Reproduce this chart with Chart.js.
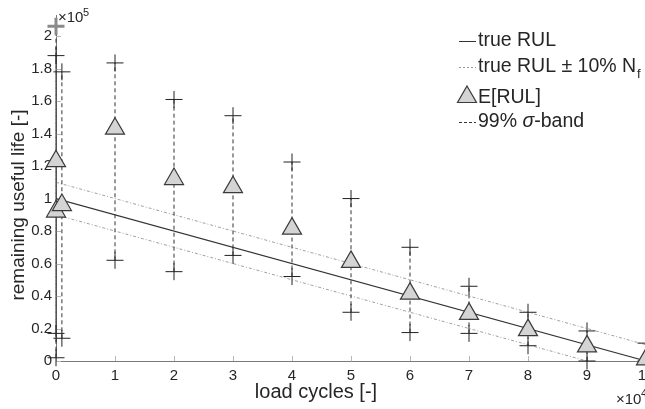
<!DOCTYPE html>
<html>
<head>
<meta charset="utf-8">
<script src="https://cdn.jsdelivr.net/npm/chart.js@4.4.1/dist/chart.umd.min.js"></script>
<style>
  html, body { margin: 0; padding: 0; background: #fff; overflow: hidden; }
  #wrap { width: 680px; height: 409px; }
</style>
</head>
<body>
<div id="wrap"><canvas id="rulChart" width="680" height="409"></canvas></div>
<script>
// load cycles in units of 1e4, remaining useful life in units of 1e5
const cycles   = [0, 0, 0.1, 1, 2, 3, 4, 5, 6, 7, 8, 9, 10];
const meanRUL  = [1.23, 0.92, 0.96, 1.43, 1.12, 1.07, 0.815, 0.61, 0.415, 0.29, 0.19, 0.09, 0.01];
const upperRUL = [2.06, 1.88, 1.78, 1.835, 1.61, 1.51, 1.225, 1.0, 0.70, 0.46, 0.30, 0.185, 0.11];
const lowerRUL = [0.02, 0.17, 0.14, 0.62, 0.55, 0.65, 0.52, 0.30, 0.175, 0.17, 0.094, 0.0, 0.0];

const trueCycles = [0, 10];
const trueRUL    = [1, 0];
const bandUpper  = [1.1, 0.1];
const bandLower  = [0.9, -0.1];

const xTicks = [0, 1, 2, 3, 4, 5, 6, 7, 8, 9, 10];
const yTicks = [0, 0.2, 0.4, 0.6, 0.8, 1, 1.2, 1.4, 1.6, 1.8, 2];

const FONT = '"Liberation Sans", Arial, sans-serif';
const TXT = '#262626';

const pts = (xs, ys) => xs.map((v, i) => ({ x: v, y: ys[i] }));

// vertical sigma bars, broken by gaps
const bandBars = [];
cycles.forEach((c, i) => {
    bandBars.push({ x: c, y: lowerRUL[i] }, { x: c, y: upperRUL[i] }, { x: c, y: null });
});

const extras = {
    id: 'extras',
    beforeDatasetsDraw(chart) {
        const { ctx, chartArea: a, scales: { x, y } } = chart;
        ctx.save();
        ctx.strokeStyle = '#b8b8b8';
        ctx.lineWidth = 1;
        ctx.beginPath();
        xTicks.forEach(v => {
            const px = Math.round(x.getPixelForValue(v)) + 0.5;
            ctx.moveTo(px, a.bottom);
            ctx.lineTo(px, a.bottom - 5);
        });
        yTicks.forEach(v => {
            const py = Math.round(y.getPixelForValue(v)) + 0.5;
            ctx.moveTo(a.left, py);
            ctx.lineTo(a.left + 5, py);
        });
        ctx.stroke();
        ctx.restore();
    },
    afterDraw(chart) {
        const { ctx } = chart;
        ctx.save();
        ctx.fillStyle = TXT;

        // axis titles
        ctx.textAlign = 'center';
        ctx.textBaseline = 'middle';
        ctx.font = '20px ' + FONT;
        ctx.fillText('load cycles [-]', 316, 392);
        ctx.save();
        ctx.translate(19, 205);
        ctx.rotate(-Math.PI / 2);
        ctx.font = '19px ' + FONT;
        ctx.fillText('remaining useful life [-]', 0, 0);
        ctx.restore();

        // exponents
        ctx.textAlign = 'left';
        ctx.textBaseline = 'alphabetic';
        ctx.font = '15px ' + FONT;
        ctx.fillText('\u00d710', 58, 22);
        ctx.font = '11px ' + FONT;
        ctx.fillText('5', 83, 16);
        ctx.font = '15px ' + FONT;
        ctx.fillText('\u00d710', 616, 404);
        ctx.font = '11px ' + FONT;
        ctx.fillText('4', 641, 397);

        // legend
        const lx0 = 459, lx1 = 476, tx = 478;
        const LF = '19.5px ' + FONT;
        ctx.font = LF;
        ctx.textBaseline = 'middle';
        ctx.lineWidth = 1;

        ctx.strokeStyle = '#333';
        ctx.setLineDash([]);
        ctx.beginPath(); ctx.moveTo(lx0, 41.5); ctx.lineTo(lx1, 41.5); ctx.stroke();
        ctx.fillText('true RUL', tx, 41);

        ctx.strokeStyle = '#9a9a9a';
        ctx.setLineDash([2, 2]);
        ctx.beginPath(); ctx.moveTo(lx0, 67.5); ctx.lineTo(lx1, 67.5); ctx.stroke();
        const s2 = 'true RUL \u00b1 10% N';
        ctx.fillText(s2, tx, 67);
        const w2 = ctx.measureText(s2).width;
        ctx.font = '13px ' + FONT;
        ctx.fillText('f', tx + w2 + 1, 74);

        ctx.setLineDash([]);
        ctx.fillStyle = '#d4d4d4';
        ctx.strokeStyle = '#3a3a3a';
        ctx.lineWidth = 1.2;
        ctx.beginPath();
        ctx.moveTo(467, 86); ctx.lineTo(476.5, 102.5); ctx.lineTo(457.5, 102.5); ctx.closePath();
        ctx.fill(); ctx.stroke();
        ctx.fillStyle = TXT;
        ctx.font = LF;
        ctx.fillText('E[RUL]', tx, 98);

        ctx.strokeStyle = '#333';
        ctx.lineWidth = 1;
        ctx.setLineDash([3, 2]);
        ctx.beginPath(); ctx.moveTo(lx0, 122.5); ctx.lineTo(lx1, 122.5); ctx.stroke();
        ctx.setLineDash([]);
        let cx = tx;
        ctx.fillText('99% ', cx, 122);
        cx += ctx.measureText('99% ').width;
        ctx.font = 'italic ' + LF;
        ctx.fillText('\u03c3', cx, 122);
        cx += ctx.measureText('\u03c3').width;
        ctx.font = LF;
        ctx.fillText('-band', cx, 122);

        ctx.restore();
    }
};

new Chart(document.getElementById('rulChart'), {
    type: 'scatter',
    data: {
        datasets: [
            {
                label: 'E[RUL]',
                data: pts(cycles, meanRUL),
                pointStyle: 'triangle',
                pointRadius: 11,
                pointHoverRadius: 11,
                backgroundColor: '#d4d4d4',
                borderColor: '#3a3a3a',
                borderWidth: 1.2,
                clip: false
            },
            {
                label: 'upper',
                data: pts(cycles, upperRUL),
                pointStyle: 'cross',
                pointRadius: 8.5,
                borderColor: ctx => ctx.dataIndex === 0 ? '#8a8a8a' : '#222',
                borderWidth: ctx => ctx.dataIndex === 0 ? 3 : 1,
                clip: false
            },
            {
                label: 'lower',
                data: pts(cycles, lowerRUL),
                pointStyle: 'cross',
                pointRadius: 8.5,
                borderColor: '#222',
                borderWidth: 1,
                clip: false
            },
            {
                label: '99% sigma-band',
                data: bandBars,
                showLine: true,
                spanGaps: false,
                pointRadius: 0,
                borderColor: '#333',
                borderWidth: 1,
                borderDash: [4, 3],
                clip: 6
            },
            {
                label: 'true RUL',
                data: pts(trueCycles, trueRUL),
                showLine: true,
                pointRadius: 0,
                borderColor: '#333',
                borderWidth: 1.2
            },
            {
                label: 'true RUL + 10%',
                data: pts(trueCycles, bandUpper),
                showLine: true,
                pointRadius: 0,
                borderColor: '#a0a0a0',
                borderWidth: 1,
                borderDash: [3, 2, 1, 2]
            },
            {
                label: 'true RUL - 10%',
                data: pts(trueCycles, bandLower),
                showLine: true,
                pointRadius: 0,
                borderColor: '#a0a0a0',
                borderWidth: 1,
                borderDash: [3, 2, 1, 2]
            }
        ]
    },
    options: {
        responsive: false,
        animation: false,
        devicePixelRatio: 1,
        layout: { padding: { left: 0, right: 34, top: 15, bottom: 0 } },
        plugins: { legend: { display: false }, tooltip: { enabled: false } },
        scales: {
            x: {
                type: 'linear',
                min: 0,
                max: 10,
                afterBuildTicks: s => { s.ticks = xTicks.map(v => ({ value: v })); },
                afterFit: s => { s.height = 48; },
                grid: { display: true, drawOnChartArea: false, drawTicks: false },
                border: { display: true, color: '#7a7a7a', width: 1 },
                ticks: { color: TXT, font: { family: FONT, size: 15 }, padding: 6 }
            },
            y: {
                type: 'linear',
                min: 0,
                max: 2.13,
                afterBuildTicks: s => { s.ticks = yTicks.map(v => ({ value: v })); },
                afterFit: s => { s.width = 56; },
                grid: { display: true, drawOnChartArea: false, drawTicks: false },
                border: { display: true, color: '#7a7a7a', width: 1 },
                ticks: {
                    color: TXT,
                    font: { family: FONT, size: 15 },
                    padding: 4,
                    callback: v => String(+Number(v).toFixed(1))
                }
            }
        }
    },
    plugins: [extras]
});
</script>
</body>
</html>
